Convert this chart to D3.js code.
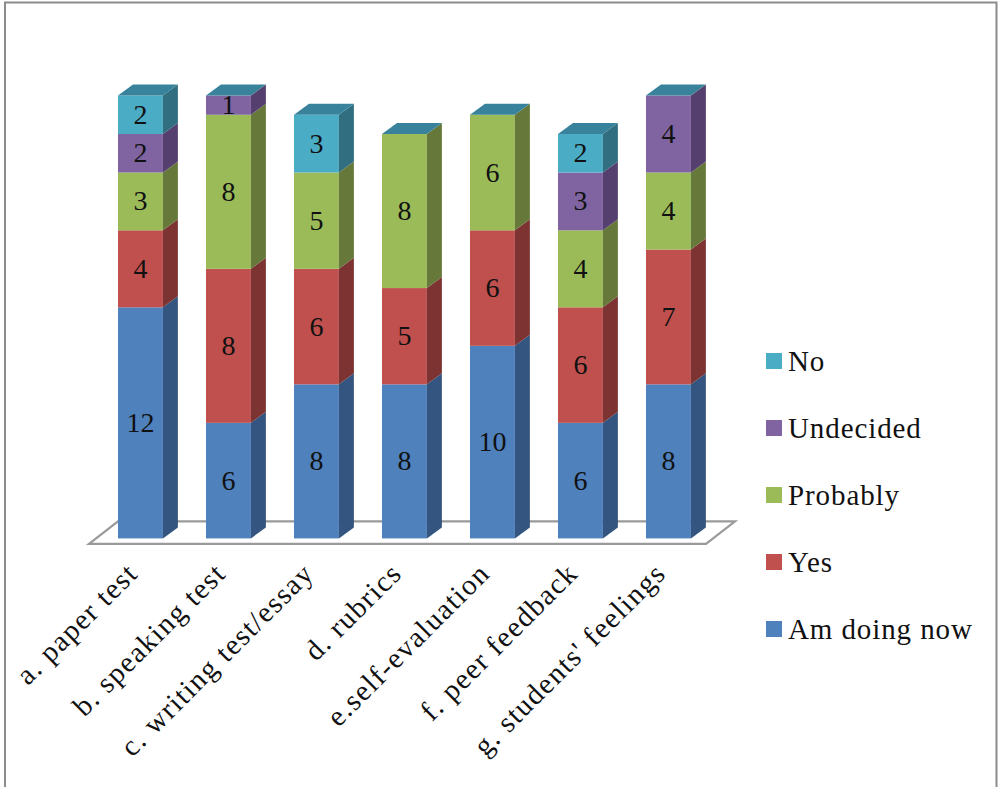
<!DOCTYPE html>
<html>
<head>
<meta charset="utf-8">
<script src="https://cdn.jsdelivr.net/npm/d3@7"></script>
<style>
html, body { margin: 0; padding: 0; background: #fff; }
svg { display: block; }
text { font-family: "Liberation Serif", serif; fill: #111; }
</style>
</head>
<body>
<svg id="chart" width="1000" height="787"></svg>
<script>
const categories = ["a. paper test", "b. speaking test", "c. writing test/essay", "d. rubrics",
  "e.self-evaluation", "f. peer feedback", "g. students' feelings"];
const seriesNames = ["Am doing now", "Yes", "Probably", "Undecided", "No"];
const amDoingNow = [12, 6, 8, 8, 10, 6, 8];
const yes = [4, 8, 6, 5, 6, 6, 7];
const probably = [3, 8, 5, 8, 6, 4, 4];
const undecided = [2, 1, 0, 0, 0, 3, 4];
const no = [2, 0, 3, 0, 0, 2, 0];
const frontColors = ["#4f81bd", "#c0504d", "#9bbb59", "#8064a2", "#4bacc6"];
const sideColors = ["#34557f", "#7c3331", "#66793a", "#553f6f", "#316f80"];
const topColor = "#38839b";

const svg = d3.select("#chart");

// Chart frame, open at the bottom edge
svg.append("path")
  .attr("d", "M5,790V2.5H996.5V790")
  .attr("fill", "none").attr("stroke", "#8c8c8c").attr("stroke-width", 2);

// Oblique depth of the 3D columns
const depthX = 15, depthY = 11;

const x = d3.scaleBand().domain(categories).range([96.44, 712.44]).paddingInner(0.4898).paddingOuter(0.245);
const y = d3.scaleLinear().domain([0, 23]).range([538.4, 95.5]);

// Floor plane
const floorFront = y(0) + 5.5, floorBack = y(0) - 17;
svg.append("path")
  .attr("d", d3.line()([[89, floorFront], [118, floorBack], [735, floorBack], [706, floorFront]]) + "Z")
  .attr("fill", "#fff").attr("stroke", "#9a9a9a").attr("stroke-width", 2.2);

const rows = categories.map((c, i) => ({ c, values: [amDoingNow[i], yes[i], probably[i], undecided[i], no[i]] }));
const line = d3.line();

const bars = svg.selectAll("g.bar").data(rows).join("g").attr("class", "bar");
bars.each(function (row) {
  const g = d3.select(this);
  const x0 = x(row.c), x1 = x0 + x.bandwidth();
  let sum = 0;
  row.values.forEach((v, s) => {
    if (!v) return;
    const yb = y(sum), yt = y(sum + v);
    sum += v;
    g.append("rect").attr("x", x0).attr("y", yt).attr("width", x1 - x0).attr("height", yb - yt)
      .attr("fill", frontColors[s]);
    g.append("path")
      .attr("d", line([[x1, yb], [x1 + depthX, yb - depthY], [x1 + depthX, yt - depthY], [x1, yt]]) + "Z")
      .attr("fill", sideColors[s]);
    g.append("text").attr("x", (x0 + x1) / 2).attr("y", (yb + yt) / 2 + 9)
      .attr("text-anchor", "middle").attr("font-size", 28).text(v);
  });
  const yt = y(sum);
  g.append("path")
    .attr("d", line([[x0, yt], [x0 + depthX, yt - depthY], [x1 + depthX, yt - depthY], [x1, yt]]) + "Z")
    .attr("fill", topColor);
});

// Slanted category labels, ending under each column
svg.selectAll("text.cat").data(categories).join("text")
  .attr("class", "cat")
  .attr("text-anchor", "end")
  .attr("font-size", 29)
  .attr("letter-spacing", 1.4)
  .attr("transform", d => `translate(${x(d) + x.bandwidth() / 2 - 1},${575}) rotate(-45)`)
  .text(d => d);

// Legend, listed top-down from the last series
const legendY = d3.scalePoint().domain(seriesNames.slice().reverse()).range([361, 629]);
const legend = svg.selectAll("g.legend").data(seriesNames).join("g").attr("class", "legend");
legend.append("rect").attr("x", 766).attr("width", 16).attr("height", 16)
  .attr("y", d => legendY(d) - 8).attr("fill", (d, i) => frontColors[i]);
legend.append("text").attr("x", 788).attr("y", d => legendY(d) + 10)
  .attr("font-size", 29).attr("letter-spacing", 0.9).text(d => d);
</script>
</body>
</html>
